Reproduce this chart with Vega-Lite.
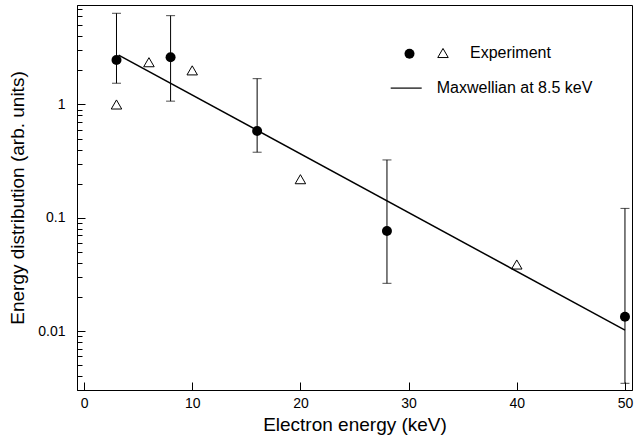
{
  "$schema": "https://vega.github.io/schema/vega-lite/v6.json",
  "width": 555,
  "height": 385,
  "autosize": "none",
  "padding": {"left": 77, "top": 5, "right": 2, "bottom": 50},
  "background": "white",
  "config": {
    "view": {"stroke": "black", "strokeWidth": 1},
    "font": "Liberation Sans",
    "axis": {"grid": false, "domainColor": "black", "tickColor": "black", "labelColor": "black", "titleColor": "black", "labelFont": "Liberation Sans", "titleFont": "Liberation Sans", "titleFontWeight": "normal", "labelFontSize": 14, "titleFontSize": 19},
    "legend": {"padding": 0, "labelFont": "Liberation Sans", "labelFontSize": 16, "labelColor": "black", "title": null}
  },
  "datasets": {
    "circles": [
      {"E": 3, "v": 2.47, "lo": 1.54, "hi": 6.38, "leg": "circle"},
      {"E": 8, "v": 2.61, "lo": 1.07, "hi": 6.08, "leg": "circle"},
      {"E": 16, "v": 0.584, "lo": 0.379, "hi": 1.69, "leg": "circle"},
      {"E": 28, "v": 0.0764, "lo": 0.0264, "hi": 0.324, "leg": "circle"},
      {"E": 50, "v": 0.0134, "lo": 0.00346, "hi": 0.121, "leg": "circle"}
    ],
    "triangles": [
      {"E": 3, "v": 1.0, "leg": "Experiment"},
      {"E": 6, "v": 2.36, "leg": "Experiment"},
      {"E": 10, "v": 2.0, "leg": "Experiment"},
      {"E": 20, "v": 0.219, "leg": "Experiment"},
      {"E": 40, "v": 0.0387, "leg": "Experiment"}
    ],
    "fit": [
      {"E": 3.2, "v": 2.73, "model": "Maxwellian at 8.5 keV"},
      {"E": 50, "v": 0.0102, "model": "Maxwellian at 8.5 keV"}
    ]
  },
  "layer": [
    {
      "data": {"name": "fit"},
      "mark": {"type": "line", "strokeWidth": 1.5},
      "encoding": {
        "x": {"field": "E", "type": "quantitative", "title": "Electron energy (keV)",
          "scale": {"domain": [-0.65, 50.65], "nice": false, "zero": false},
          "axis": {"values": [0, 10, 20, 30, 40, 50], "format": "d", "tickSize": -8, "labelPadding": 14, "labelFlush": false, "titlePadding": 5}},
        "y": {"field": "v", "type": "quantitative", "title": "Energy distribution (arb. units)",
          "scale": {"type": "log", "domain": [0.00302, 7.55], "nice": false},
          "axis": {
            "values": [0.004, 0.005, 0.006, 0.007, 0.008, 0.009, 0.01, 0.02, 0.03, 0.04, 0.05, 0.06, 0.07, 0.08, 0.09, 0.1, 0.2, 0.3, 0.4, 0.5, 0.6, 0.7, 0.8, 0.9, 1, 2, 3, 4, 5, 6, 7],
            "labelExpr": "datum.value == 0.01 || datum.value == 0.1 || datum.value == 1 ? format(datum.value, '~g') : ''",
            "labelOverlap": false,
            "tickSize": {"condition": {"test": "datum.value == 0.01 || datum.value == 0.1 || datum.value == 1", "value": -8}, "value": -5},
            "labelPadding": 20,
            "titlePadding": 10}},
        "stroke": {"field": "model", "type": "nominal", "scale": {"range": ["black"]},
          "legend": {"orient": "none", "legendX": 312.7, "legendY": 66.6, "symbolType": "stroke", "symbolSize": 961, "symbolStrokeWidth": 1.2, "labelOffset": 14}}
      }
    },
    {
      "data": {"name": "circles"},
      "mark": {"type": "errorbar", "color": "black", "ticks": {"size": 9, "color": "black"}, "rule": {"color": "black"}, "thickness": 1},
      "encoding": {
        "x": {"field": "E", "type": "quantitative", "title": "Electron energy (keV)"},
        "y": {"field": "hi", "type": "quantitative", "title": "Energy distribution (arb. units)"},
        "y2": {"field": "lo"}
      }
    },
    {
      "data": {"name": "circles"},
      "mark": {"type": "point", "shape": "circle", "filled": true, "size": 100, "opacity": 1},
      "encoding": {
        "x": {"field": "E", "type": "quantitative", "title": "Electron energy (keV)"},
        "y": {"field": "v", "type": "quantitative", "title": "Energy distribution (arb. units)"},
        "fill": {"field": "leg", "type": "nominal", "scale": {"range": ["black"]},
          "legend": {"orient": "none", "legendX": 324.5, "legendY": 40.7, "symbolType": "circle", "symbolSize": 100, "labelExpr": "''"}}
      }
    },
    {
      "data": {"name": "triangles"},
      "mark": {"type": "point", "shape": "triangle-up", "filled": false, "size": 110, "stroke": "black", "strokeWidth": 1, "opacity": 1},
      "encoding": {
        "x": {"field": "E", "type": "quantitative", "title": "Electron energy (keV)"},
        "y": {"field": "v", "type": "quantitative", "title": "Energy distribution (arb. units)"},
        "shape": {"field": "leg", "type": "nominal", "scale": {"range": ["triangle-up"]},
          "legend": {"orient": "none", "legendX": 358, "legendY": 40, "symbolSize": 110, "symbolStrokeColor": "black", "symbolFillColor": "transparent", "symbolStrokeWidth": 1, "labelOffset": 19}}
      }
    }
  ]
}
